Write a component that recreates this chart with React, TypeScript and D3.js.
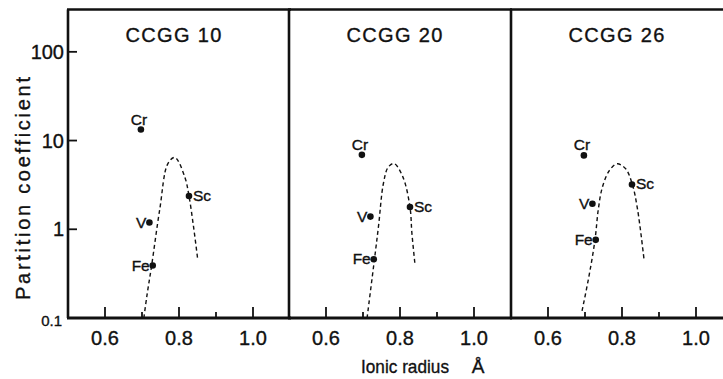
import React, { useEffect, useRef } from 'react';
import * as d3 from 'd3';

// panel titles and element labels
const panelTitles = ['CCGG 10', 'CCGG 20', 'CCGG 26'];
const elements = ['Cr', 'V', 'Fe', 'Sc'];
const ionicRadius = [0.697, 0.72, 0.729, 0.827];

// partition coefficients, same order as elements
const ccgg10Values = [13.3, 1.19, 0.39, 2.37];
const ccgg20Values = [6.9, 1.39, 0.46, 1.78];
const ccgg26Values = [6.8, 1.94, 0.76, 3.2];

// dashed fitted curves [radius, coefficient]
const ccgg10Curve: [number, number][] = [
  [0.705, 0.1], [0.713, 0.175], [0.726, 0.39], [0.748, 1.68], [0.77, 5.5],
  [0.789, 6.45], [0.816, 3.84], [0.827, 2.37], [0.839, 1.09], [0.85, 0.48],
];
const ccgg20Curve: [number, number][] = [
  [0.711, 0.1], [0.731, 0.46], [0.742, 1.09], [0.755, 3.26], [0.768, 5.0],
  [0.784, 5.5], [0.808, 3.87], [0.827, 1.78], [0.832, 0.92], [0.84, 0.42],
];
const ccgg26Curve: [number, number][] = [
  [0.692, 0.12], [0.711, 0.3], [0.727, 0.76], [0.736, 1.68], [0.747, 2.98],
  [0.766, 4.6], [0.787, 5.47], [0.81, 4.8], [0.828, 3.2], [0.842, 1.68], [0.86, 0.44],
];

const xMajorTicks = [0.6, 0.8, 1.0];
const xMinorTicks = [0.7, 0.9];
const yTicks = [100, 10, 1];
const yBottomTick = 0.1;

const panelValues = [ccgg10Values, ccgg20Values, ccgg26Values];
const panelCurves = [ccgg10Curve, ccgg20Curve, ccgg26Curve];

const font = '"Liberation Sans", Arial, Helvetica, sans-serif';
const ink = '#111';

const App: React.FC = () => {
  const svgRef = useRef<SVGSVGElement>(null);

  useEffect(() => {
    if (!svgRef.current) return;
    const svg = d3.select(svgRef.current);
    svg.selectAll('*').remove();

    const top = 9.5;
    const bottom = 318;
    const panelLefts = [68, 289, 511];
    const panelWidth = 222;

    const yScale = d3.scaleLog().domain([0.1, 300]).range([bottom, top]);

    // scanned print looks heavy, so give text a hairline stroke
    const addText = (parent: any, size: number) =>
      parent.append('text')
        .style('font-family', font)
        .style('font-size', `${size}px`)
        .style('fill', ink)
        .style('stroke', ink)
        .style('stroke-width', '0.35px');

    // label offsets per element (dx, dy, anchor)
    const labelPos: Record<string, [number, number, string]> = {
      Cr: [-2, -5, 'middle'],
      V: [-3, 5, 'end'],
      Fe: [-3, 5, 'end'],
      Sc: [4, 5, 'start'],
    };

    const line = d3.line<[number, number]>().curve(d3.curveCatmullRom.alpha(0.5));

    panelTitles.forEach((title, p) => {
      const x0 = panelLefts[p];
      const xScale = d3.scaleLinear().domain([0.5, 1.1]).range([x0, x0 + panelWidth]);
      const g = svg.append('g');

      // frame
      g.append('line')
        .attr('x1', x0).attr('x2', x0)
        .attr('y1', top).attr('y2', bottom)
        .attr('stroke', ink).attr('stroke-width', 2.6);
      g.append('line')
        .attr('x1', x0 - 1).attr('x2', x0 + panelWidth + 1)
        .attr('y1', top).attr('y2', top)
        .attr('stroke', ink).attr('stroke-width', 2.4);
      g.append('line')
        .attr('x1', x0 - 1).attr('x2', x0 + panelWidth + 1)
        .attr('y1', bottom).attr('y2', bottom)
        .attr('stroke', ink).attr('stroke-width', 3);

      // x ticks pointing up
      xMajorTicks.forEach(t => {
        g.append('line')
          .attr('x1', xScale(t)).attr('x2', xScale(t))
          .attr('y1', bottom).attr('y2', bottom - 11)
          .attr('stroke', ink).attr('stroke-width', 1.8);
        addText(g, 20)
          .attr('x', xScale(t)).attr('y', 345)
          .attr('text-anchor', 'middle')
          .text(t.toFixed(1));
      });
      xMinorTicks.forEach(t => {
        g.append('line')
          .attr('x1', xScale(t)).attr('x2', xScale(t))
          .attr('y1', bottom).attr('y2', bottom - 6)
          .attr('stroke', ink).attr('stroke-width', 1.8);
      });

      // title
      addText(g, 20)
        .attr('x', xScale(0.785)).attr('y', 41.5)
        .attr('text-anchor', 'middle')
        .attr('textLength', 96).attr('lengthAdjust', 'spacing')
        .text(title);

      // dashed curve
      g.append('path')
        .attr('d', line(panelCurves[p].map(d => [xScale(d[0]), yScale(d[1])] as [number, number])))
        .attr('fill', 'none')
        .attr('stroke', ink)
        .attr('stroke-width', 1.4)
        .attr('stroke-dasharray', '4,3');

      // points and labels
      elements.forEach((el, i) => {
        const cx = xScale(ionicRadius[i]);
        const cy = yScale(panelValues[p][i]);
        g.append('circle')
          .attr('cx', cx).attr('cy', cy).attr('r', 3.3)
          .attr('fill', ink);
        const [dx, dy, anchor] = labelPos[el];
        addText(g, 15.5)
          .attr('x', cx + dx).attr('y', cy + dy)
          .attr('text-anchor', anchor)
          .text(el);
      });
    });

    // y axis ticks and labels (first panel only)
    const x0 = panelLefts[0];
    yTicks.forEach(t => {
      svg.append('line')
        .attr('x1', x0).attr('x2', x0 + 9)
        .attr('y1', yScale(t)).attr('y2', yScale(t))
        .attr('stroke', ink).attr('stroke-width', 1.8);
      addText(svg, 20)
        .attr('x', 64).attr('y', yScale(t) + 7)
        .attr('text-anchor', 'end')
        .text(String(t));
    });
    addText(svg, 15)
      .attr('x', 62).attr('y', yScale(yBottomTick) + 8)
      .attr('text-anchor', 'end')
      .text('0.1');

    // axis titles
    addText(svg, 20)
      .attr('transform', 'translate(30, 188.5) rotate(-90)')
      .attr('text-anchor', 'middle')
      .attr('textLength', 223).attr('lengthAdjust', 'spacing')
      .text('Partition coefficient');

    addText(svg, 19)
      .attr('x', 361).attr('y', 373)
      .attr('textLength', 88).attr('lengthAdjust', 'spacingAndGlyphs')
      .text('Ionic radius');
    addText(svg, 19)
      .attr('x', 478).attr('y', 373)
      .attr('text-anchor', 'middle')
      .text('Å');
  }, []);

  return (
    <svg
      ref={svgRef}
      width={723}
      height={379}
      style={{ position: 'absolute', left: 0, top: 0, background: '#fff' }}
    />
  );
};

export default App;
